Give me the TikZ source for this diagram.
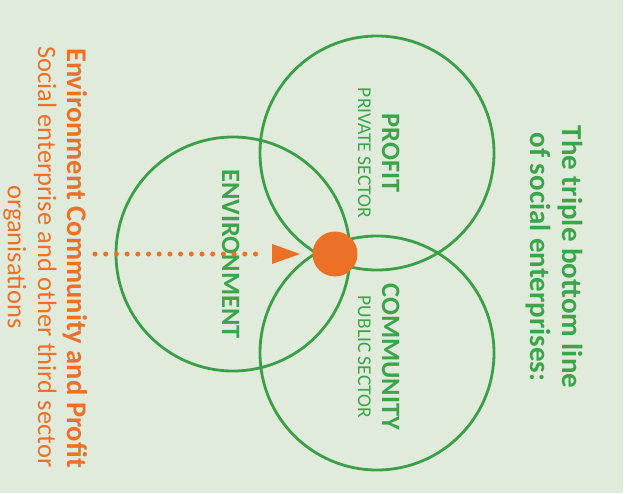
\documentclass[tikz,border=0pt]{standalone}
\usepackage{fontspec}
\setmainfont{Carlito}
\usetikzlibrary{arrows.meta}
\definecolor{bg}{HTML}{E1EBDC}
\definecolor{tgreen}{HTML}{3AA549}
\definecolor{cgreen}{HTML}{3A9F47}
\definecolor{torange}{HTML}{EC7026}
\tikzset{
  ring/.style={draw=cgreen, line width=2.8pt},
  vtext/.style={rotate=-90, anchor=base, inner sep=0pt},
  bigbold/.style={vtext, font=\fontsize{26.5}{30}\selectfont\bfseries, text=tgreen},
  smallsec/.style={vtext, font=\fontsize{19.5}{22}\selectfont, text=tgreen},
  titlef/.style={vtext, font=\fontsize{29}{32}\selectfont\bfseries, text=tgreen},
  orbold/.style={vtext, font=\fontsize{28.5}{30}\selectfont\bfseries, text=torange},
  orreg/.style={vtext, font=\fontsize{26.5}{30}\selectfont, text=torange},
  dotline/.style={draw=torange, line width=5pt, line cap=round, dash pattern=on 0pt off 10.7pt},
}
\begin{document}
\begin{tikzpicture}[x=1pt,y=-1pt]
\useasboundingbox (0,0) rectangle (631,493);
\fill[bg] (0,0) rectangle (623,493);
% circles
\node[ring, circle, minimum size=234pt, inner sep=0pt] (profit) at (377,153) {};
\node[ring, circle, minimum size=234pt, inner sep=0pt] (community) at (377,353) {};
\node[ring, circle, minimum size=234pt, inner sep=0pt] (environment) at (233,254) {};
% labels
\node[bigbold] (lprofit) at (382,153) {PROFIT};
\node[smallsec] (lprivate) at (358,153) {PRIVATE SECTOR};
\node[bigbold] (lcommunity) at (382,357) {COMMUNITY};
\node[smallsec] (lpublic) at (358,357) {PUBLIC SECTOR};
\node[bigbold] (lenv) at (222,254) {ENVIRONMENT};
% title
\node[titlef] (t1) at (562,257) {The triple bottom line};
\node[titlef] (t2) at (530,257) {of social enterprises:};
% left text
\node[orbold] (o1) at (67,258) {Environment Community and Profit};
\node[orreg] (o2) at (38,257) {Social enterprise and other third sector};
\node[orreg] (o3) at (8,257) {organisations};
% dot and arrow
\coordinate (dstart) at (95,254);
\coordinate (dend) at (264,254);
\coordinate (tip) at (300,254);
\node[circle, fill=torange, minimum size=45pt, inner sep=0pt] (dot) at (335,254) {};
\draw[dotline] (dstart) -- (dend);
\fill[torange] (tip) -- ++(-28,-10) -- ++(0,20) -- cycle;
\end{tikzpicture}
\end{document}
